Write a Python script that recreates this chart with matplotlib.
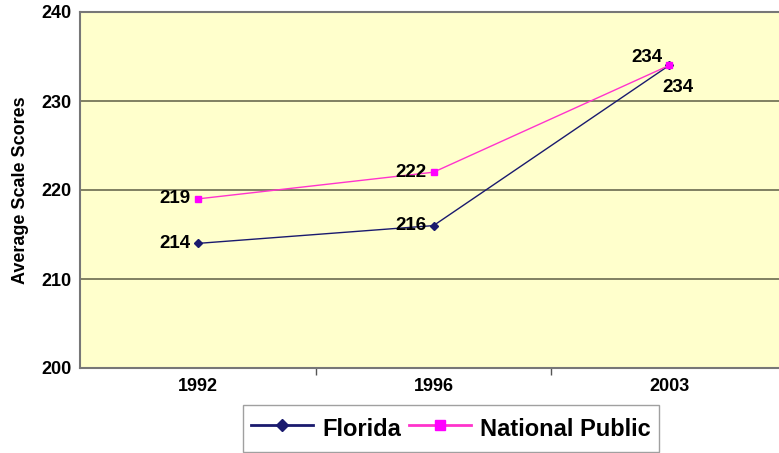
import matplotlib
matplotlib.use("Agg")
import matplotlib.pyplot as plt

years = ["1992", "1996", "2003"]
florida = [214, 216, 234]
national = [219, 222, 234]
yticks = [200, 210, 220, 230, 240]

plt.rcParams['font.family'] = ['Liberation Sans', 'DejaVu Sans']
fig = plt.figure(figsize=(7.79, 4.53), dpi=100)
ax = fig.add_axes([80/779, 1-368/453, 707/779, 356/453])
ax.set_facecolor('#FFFFCC')
x = list(range(len(years)))

ax.plot(x, florida, color='#1a1a6e', lw=1, marker='D', ms=4, label='Florida')
ax.plot(x, national, color='#FF33CC', lw=1, marker='s', ms=4.5, mfc='#FF00FF', mec='#FF00FF', label='National Public')

ax.set_xlim(-0.5, 2.5)
ax.set_ylim(200, 240)
ax.set_yticks(yticks)
ax.set_yticklabels([str(v) for v in yticks], fontsize=13, fontweight='bold')
ax.set_xticks(x)
ax.set_xticklabels(years, fontsize=13, fontweight='bold')
ax.tick_params(axis='x', length=0, pad=7)
ax.set_xticks([0.5, 1.5], minor=True)
ax.tick_params(axis='x', which='minor', length=5, color='#555555', width=1)
ax.tick_params(axis='y', length=0, pad=6)
ax.grid(axis='y', color='#6b6b50', lw=1.2)
ax.set_axisbelow(True)
for s in ax.spines.values():
    s.set_color('#777777')
    s.set_linewidth(1.5)
ax.set_ylabel('Average Scale Scores', fontsize=13, fontweight='bold', labelpad=9)

# labels
fs = 13.5
for i, v in enumerate(florida[:2]):
    ax.annotate(str(v), (i, v), xytext=(-5, 0), textcoords='offset points', ha='right', va='center', fontsize=fs, fontweight='bold')
for i, v in enumerate(national[:2]):
    ax.annotate(str(v), (i, v), xytext=(-5, 0), textcoords='offset points', ha='right', va='center', fontsize=fs, fontweight='bold')
ax.annotate(str(florida[2]), (2, florida[2]), xytext=(-5, -16), textcoords='offset points', ha='left', va='center', fontsize=fs, fontweight='bold')
ax.annotate(str(national[2]), (2, national[2]), xytext=(-5, 6), textcoords='offset points', ha='right', va='center', fontsize=fs, fontweight='bold')

leg = fig.legend(loc='upper left', bbox_to_anchor=(243/779, 1-405/453), ncol=2, frameon=True,
                 prop={'weight': 'bold', 'size': 17}, fancybox=False, edgecolor='#888888',
                 handlelength=2.6, columnspacing=0.35, handletextpad=0.4, borderpad=0.35,
                 handleheight=1.6, borderaxespad=0, markerscale=1.6)
leg.get_frame().set_linewidth(1)
for h in leg.get_lines():
    h.set_linewidth(2)

fig.savefig('out.png', dpi=100)
